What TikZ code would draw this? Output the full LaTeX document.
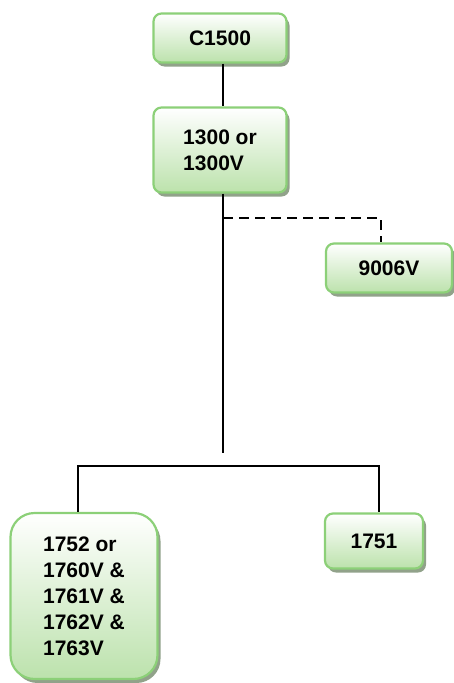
\documentclass[tikz,border=0pt]{standalone}
\usepackage{fontspec}
\setmainfont{Liberation Sans}
\usetikzlibrary{shadows}
\definecolor{boxedge}{RGB}{140,208,120}
\definecolor{boxfill}{RGB}{188,226,172}
\definecolor{boxshade}{RGB}{145,162,138}
\begin{document}
\begin{tikzpicture}[x=1pt,y=-1pt]
\tikzstyle{every node}=[font=\bfseries\fontsize{21}{26}\selectfont, inner sep=0pt]
\tikzstyle{box}=[draw=boxedge, line width=2.2pt, rounded corners=8pt, top color=white, bottom color=boxfill, drop shadow={shadow xshift=3pt, shadow yshift=-4pt, fill=boxshade, opacity=1}]
\tikzstyle{link}=[line width=1.8pt]
\useasboundingbox (0,0) rectangle (454,683);
\node (c1500) [box, minimum width=133pt, minimum height=49pt] at (220,38) {C1500};
\node (n1300) [box, minimum width=133pt, minimum height=85pt, align=left] at (220,150) {1300 or\\1300V};
\node (n9006) [box, minimum width=126pt, minimum height=49pt] at (389,268) {9006V};
\node (n1751) [box, minimum width=98pt, minimum height=55pt] at (374,541) {1751};
\node (n1752) [box, rounded corners=24pt, minimum width=147pt, minimum height=166pt, align=left] at (84,596) {1752 or\\1760V \&\\1761V \&\\1762V \&\\1763V};
\coordinate (spine) at (223,453);
\coordinate (dash) at (381,218);
\coordinate (forkl) at (78,466);
\coordinate (forkr) at (379,466);
\draw[link] (c1500.south -| spine) -- (n1300.north -| spine);
\draw[link] (n1300.south -| spine) -- (spine);
\draw[link, dash pattern=on 10pt off 6pt] (spine |- dash) -- (dash) -- (n9006.north -| dash);
\draw[link] (n1752.north -| forkl) -- (forkl) -- (forkr) -- (n1751.north -| forkr);
\end{tikzpicture}
\end{document}
